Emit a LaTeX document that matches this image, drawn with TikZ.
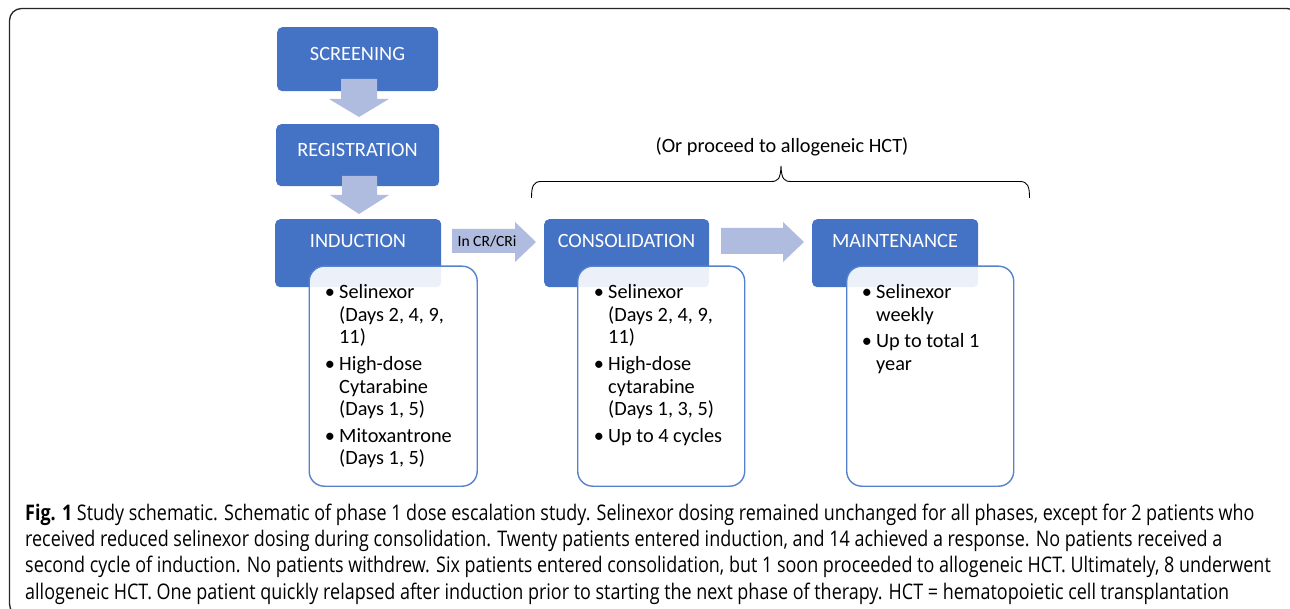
\documentclass[tikz,border=0pt]{standalone}
\usepackage{fontspec}
\setmainfont{Carlito}
\newfontfamily\capfont[FakeStretch=0.835]{Open Sans}
\definecolor{hdrblue}{RGB}{68,114,196}
\definecolor{arrblue}{RGB}{176,188,223}
\definecolor{bordblue}{RGB}{84,130,205}
\begin{document}
\begin{tikzpicture}[x=1pt,y=-1pt,
  hdrbox/.style={fill=hdrblue, draw=none, rounded corners=5pt, inner sep=0pt, anchor=north west},
  hdrtext/.style={text=white, inner sep=0pt, anchor=base, font=\fontsize{20.3}{24}\selectfont},
  detbox/.style={draw=bordblue, line width=1.4pt, fill=white, fill opacity=0.9, rounded corners=15pt, inner sep=0pt, anchor=north west},
  bodytext/.style={inner sep=0pt, anchor=base west, font=\fontsize{20.3}{22.5}\selectfont},
  bultext/.style={inner sep=0pt, anchor=base, font=\fontsize{20.3}{22.5}\selectfont},
  blockarrow/.style={fill=arrblue, draw=none},
  captext/.style={inner sep=0pt, anchor=base west, font=\capfont\fontsize{21.5}{26}\selectfont},
  brace/.style={draw=black, line width=0.9pt}
]
\useasboundingbox (0,0) rectangle (1290,609);
% outer frame
\draw[line width=1.3pt, black!85, rounded corners=12pt] (9.5,8.5) rectangle (1299,616);

% header boxes
\node[hdrbox, minimum width=161, minimum height=64] (scr) at (277,27) {};
\node[hdrtext] (scrt) at (357.5,61) {SCREENING};
\node[hdrbox, minimum width=163, minimum height=62] (reg) at (276,124) {};
\node[hdrtext] (regt) at (357.5,157) {REGISTRATION};
\node[hdrbox, minimum width=166, minimum height=68] (ind) at (275,219) {};
\node[hdrtext] (indt) at (358,248) {INDUCTION};
\node[hdrbox, minimum width=165, minimum height=68] (con) at (544,219) {};
\node[hdrtext] (cont) at (626.5,248) {CONSOLIDATION};
\node[hdrbox, minimum width=166, minimum height=68] (mai) at (812,219) {};
\node[hdrtext] (mait) at (895,248) {MAINTENANCE};

% detail boxes
\node[detbox, minimum width=168, minimum height=220] (indd) at (308.5,265.5) {};
\node[detbox, minimum width=167, minimum height=220] (cond) at (577,265.5) {};
\node[detbox, minimum width=167, minimum height=220] (maid) at (846,265.5) {};

% arrows
\fill[blockarrow] (341,79) -- (377,79) -- (377,99) -- (389,99) -- (359,117) -- (329,99) -- (341,99) -- cycle;
\fill[blockarrow] (342,176) -- (377,176) -- (377,195) -- (389,195) -- (359,214) -- (330,195) -- (342,195) -- cycle;
\fill[blockarrow] (452,229) -- (515,229) -- (515,222) -- (536,242) -- (515,262) -- (515,253) -- (452,253) -- cycle;
\fill[blockarrow] (721,228) -- (783,228) -- (783,222) -- (804,242) -- (783,262) -- (783,254) -- (721,254) -- cycle;
\node[inner sep=0pt, anchor=base, font=\fontsize{15.6}{18}\selectfont] (crlab) at (487,246.5) {In CR/CRi};

% induction text
\foreach \y in {299,370.5,442} \node[bultext] at (330,\y) {\textbullet};
\foreach \y/\t [count=\i] in {299/{Selinexor}, 321.5/{(Days 2, 4, 9,}, 344/{11)}, 370.5/{High-dose}, 393/{Cytarabine}, 415.5/{(Days 1, 5)}, 442/{Mitoxantrone}, 464.5/{(Days 1, 5)}}
  \node[bodytext] (il\i) at (339,\y) {\t};
% consolidation text
\foreach \y in {299,370.5,442} \node[bultext] at (599,\y) {\textbullet};
\foreach \y/\t [count=\i] in {299/{Selinexor}, 321.5/{(Days 2, 4, 9,}, 344/{11)}, 370.5/{High-dose}, 393/{cytarabine}, 415.5/{(Days 1, 3, 5)}, 442/{Up to 4 cycles}}
  \node[bodytext] (cl\i) at (608,\y) {\t};
% maintenance text
\foreach \y in {299,348} \node[bultext] at (867,\y) {\textbullet};
\foreach \y/\t [count=\i] in {299/{Selinexor}, 321.5/{weekly}, 348/{Up to total 1}, 370.5/{year}}
  \node[bodytext] (ml\i) at (876,\y) {\t};

% brace and its label
\draw[brace] (531.5,198) .. controls (531.5,187) and (533,181.5) .. (541,181.5) -- (771,181.5) .. controls (778,181.5) and (780.5,179) .. (781,166) .. controls (781.5,179) and (784,181.5) .. (791,181.5) -- (1020,181.5) .. controls (1028,181.5) and (1029.5,187) .. (1029.5,198);
\node[inner sep=0pt, anchor=base, font=\fontsize{20.3}{24}\selectfont] (hct) at (782,153) {(Or proceed to allogeneic HCT)};

% caption
\node[captext] (cap1) at (25,520) {\textbf{Fig. 1} Study schematic. Schematic of phase 1 dose escalation study. Selinexor dosing remained unchanged for all phases, except for 2 patients who};
\node[captext] (cap2) at (25,546) {received reduced selinexor dosing during consolidation. Twenty patients entered induction, and 14 achieved a response. No patients received a};
\node[captext] (cap3) at (25,572.5) {second cycle of induction. No patients withdrew. Six patients entered consolidation, but 1 soon proceeded to allogeneic HCT. Ultimately, 8 underwent};
\node[captext] (cap4) at (25,599) {allogeneic HCT. One patient quickly relapsed after induction prior to starting the next phase of therapy. HCT = hematopoietic cell transplantation};
\end{tikzpicture}
\end{document}
